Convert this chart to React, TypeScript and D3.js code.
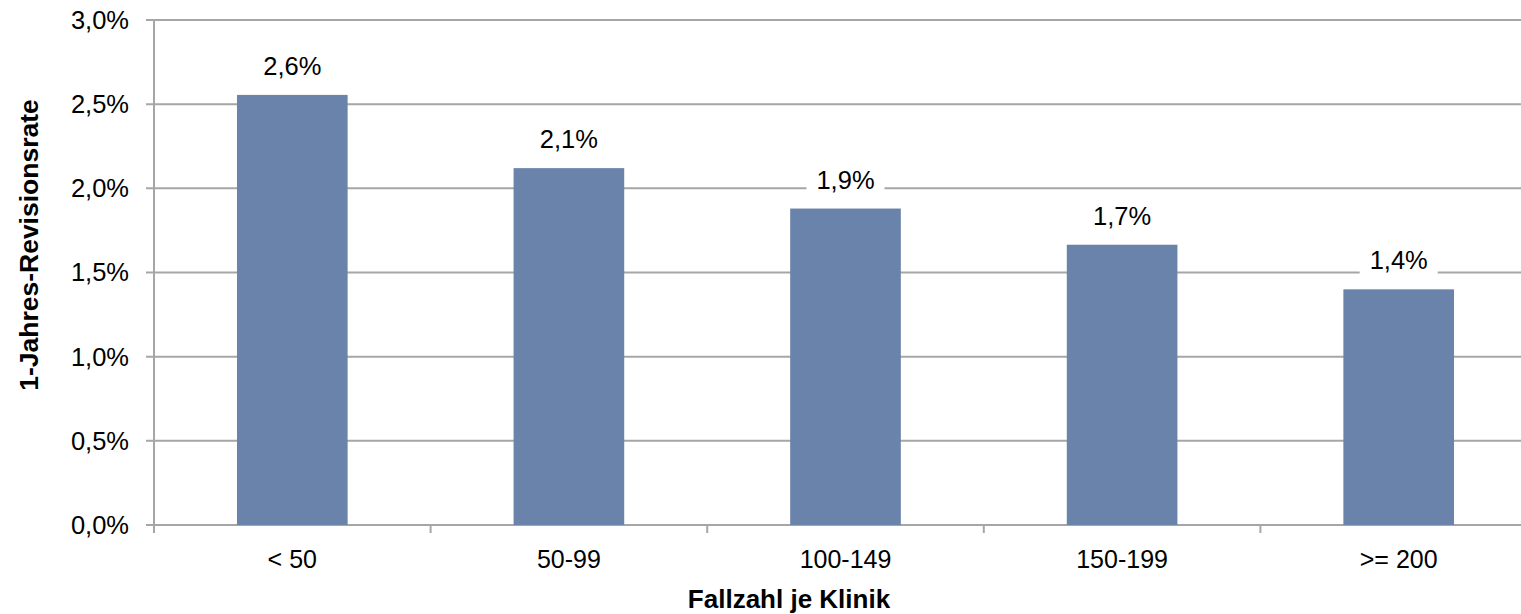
import React from "react";
import * as d3 from "d3";

const categories = ["< 50", "50-99", "100-149", "150-199", ">= 200"];
const values = [2.555, 2.12, 1.88, 1.665, 1.4];
const yTicks = [0, 0.5, 1, 1.5, 2, 2.5, 3];

const W = 1521;
const H = 614;
const left = 154;
const right = 1537;
const top = 20;
const bottom = 525;
const gridColor = "#A6A6A6";
const barColor = "#6983AA";
const font = "'Liberation Sans', Arial, sans-serif";

const fmt = (v: number) => d3.format(".1f")(v).replace(".", ",") + "%";

export default function App() {
  const x = d3.scaleBand<string>().domain(categories).range([left, right]).paddingInner(0.6).paddingOuter(0.3);
  const step = x.step();
  const y = d3.scaleLinear().domain([0, 3]).range([bottom, top]);
  const boundaries = d3.range(categories.length + 1).map((i) => left + i * step);

  return (
    <div style={{ position: "fixed", left: 0, top: 0, width: W, height: H, background: "#fff" }}>
      <svg width={W} height={H} style={{ display: "block" }} fontFamily={font}>
        {yTicks.map((t) => (
          <g key={t}>
            <line x1={left - 8} x2={right} y1={y(t)} y2={y(t)} stroke={gridColor} strokeWidth={2} />
            <text x={129} y={y(t)} dy="0.35em" textAnchor="end" fontSize={25.5} fill="#000">
              {fmt(t)}
            </text>
          </g>
        ))}
        <line x1={left} x2={left} y1={top} y2={bottom} stroke={gridColor} strokeWidth={2} />
        {boundaries.map((b, i) => (
          <line key={i} x1={b} x2={b} y1={bottom} y2={bottom + 8} stroke={gridColor} strokeWidth={2} />
        ))}
        {categories.map((c, i) => {
          const bx = x(c)!;
          const bw = x.bandwidth();
          const cx = bx + bw / 2;
          const yv = y(values[i]);
          return (
            <g key={c}>
              <rect x={bx} y={yv} width={bw} height={bottom - yv} fill={barColor} />
              <rect x={cx - 39} y={yv - 44} width={78} height={34} fill="#fff" />
              <text x={cx} y={yv - 20} textAnchor="middle" fontSize={25.5} fill="#000">
                {fmt(values[i])}
              </text>
              <text x={cx} y={568} textAnchor="middle" fontSize={25} fill="#000">
                {c}
              </text>
            </g>
          );
        })}
        <text x={789} y={608} textAnchor="middle" fontSize={26} fontWeight="bold" fill="#000">
          Fallzahl je Klinik
        </text>
        <text
          transform={`translate(38,245) rotate(-90)`}
          textAnchor="middle"
          fontSize={26.5}
          fontWeight="bold"
          fill="#000"
        >
          1-Jahres-Revisionsrate
        </text>
      </svg>
    </div>
  );
}
